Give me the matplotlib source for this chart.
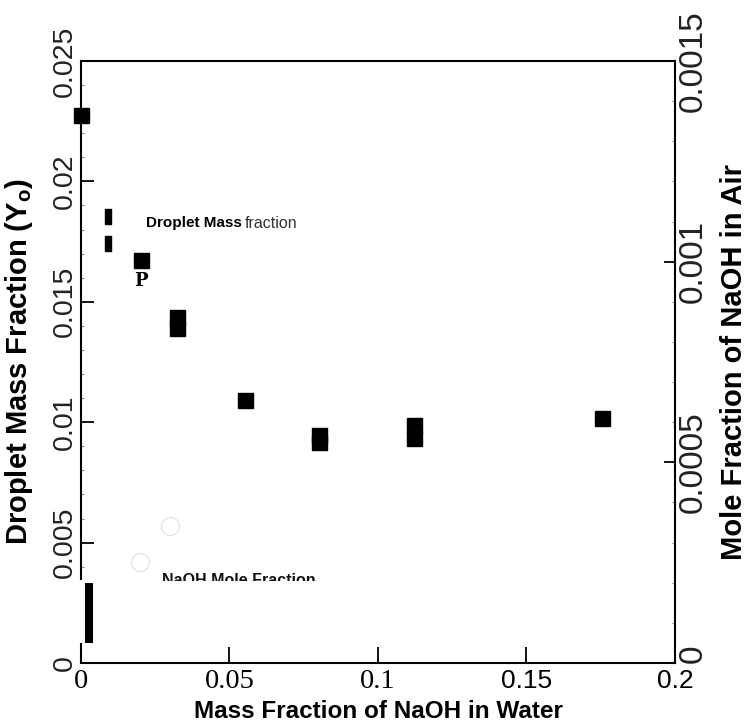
import matplotlib
matplotlib.use("Agg")
import matplotlib.pyplot as plt
from matplotlib.transforms import Bbox, TransformedBbox

plt.rcParams['font.family'] = ['Liberation Sans', 'DejaVu Sans']
plt.rcParams['mathtext.fontset'] = 'custom'
plt.rcParams['mathtext.rm'] = 'Liberation Sans'
plt.rcParams['mathtext.bf'] = 'Liberation Sans:bold'

# droplet mass fraction Y0 against NaOH mass fraction in water
naoh_water = [0.0, 0.0202, 0.0322, 0.0322, 0.0551, 0.0800, 0.0800, 0.1120, 0.1120, 0.1754]
droplet_y0 = [0.02274, 0.01674, 0.01435, 0.01393, 0.01092, 0.00945, 0.00916, 0.00990, 0.00936, 0.01017]

# the two narrow marks at ~0.009
split_x = [0.0091, 0.0091]
split_y = [0.01856, 0.01744]

# NaOH mole fraction in air (right axis)
mole_x = [0.0199, 0.0300]
mole_y = [0.000252, 0.000341]
bar_x = 0.0027
bar_lo, bar_hi = 0.00005, 0.00020

x_ticks = [0, 0.05, 0.1, 0.15, 0.2]
x_labels = ['0', '0.05', '0.1', '0.15', '0.2']
y_ticks = [0, 0.005, 0.01, 0.015, 0.02, 0.025]
y_labels = ['0', '0.005', '0.01', '0.015', '0.02', '0.025']
y2_ticks = [0, 0.0005, 0.001, 0.0015]
y2_labels = ['0', '0.0005', '0.001', '0.0015']

fig = plt.figure(figsize=(7.49, 7.26), dpi=100)
ax = fig.add_axes([0.1081, 0.0868, 0.7931, 0.8292])
ax2 = ax.twinx()

ax.set_xlim(0, 0.2)
ax.set_ylim(0, 0.025)
ax2.set_ylim(0, 0.0015)

# frame: left spine has a break near the bottom
for s in ['left', 'right']:
    ax.spines[s].set_visible(False)
for s in ['left', 'top', 'bottom']:
    ax2.spines[s].set_visible(False)
for s in ['top', 'bottom']:
    ax.spines[s].set_linewidth(1.5)
ax2.spines['right'].set_linewidth(1.5)
ax.plot([0, 0], [0, 0.00083], color='black', lw=1.5, clip_on=False, solid_capstyle='butt')
ax.plot([0, 0], [0.00345, 0.025], color='black', lw=1.5, clip_on=False, solid_capstyle='butt')

# ticks
ax.set_xticks(x_ticks)
ax.set_xticklabels(x_labels)
ax.tick_params(axis='x', direction='in', length=11.5, width=1.3, pad=4)
for lbl in ax.get_xticklabels():
    if lbl.get_text() in ('0', '0.05', '0.1'):
        lbl.set_fontfamily('Liberation Serif')
        lbl.set_fontsize(20.5)
    else:
        lbl.set_fontfamily('Liberation Sans')
        lbl.set_fontsize(19)

ax.set_yticks(y_ticks)
ax.set_yticklabels(y_labels, rotation=90, va='center', fontsize=20.5, color='#222222')
ax.set_yticks([i / 1000 for i in range(4, 25) if i % 5 != 0], minor=True)
ax.tick_params(axis='y', which='major', direction='in', length=9.4, width=1.3, pad=2.5)
ax.tick_params(axis='y', which='minor', direction='in', length=2.5, width=0.6, color='#666666')

ax2.set_yticks(y2_ticks)
ax2.set_yticklabels(y2_labels, rotation=90, va='center', fontsize=24, color='#222222')
ax2.get_yticklabels()[0].set_va('bottom')  # keep the zero clear of the 0.2 label
ax2.set_yticks([i / 10000 for i in range(1, 15) if i % 5 != 0], minor=True)
ax2.tick_params(axis='y', which='major', direction='in', length=8, width=1.3, pad=2)
ax2.tick_params(axis='y', which='minor', direction='in', length=2.5, width=0.6, color='#666666')

# droplet mass fraction points
ax.plot(naoh_water, droplet_y0, linestyle='none', marker='s', markersize=10.8,
        color='black', clip_on=False, zorder=5)
narrow = [(-0.2, -0.5), (0.2, -0.5), (0.2, 0.5), (-0.2, 0.5), (-0.2, -0.5)]
ax.plot(split_x, split_y, linestyle='none', marker=narrow, markersize=10.8,
        color='black', zorder=5)

# mole fraction marks
ax2.plot(mole_x, mole_y, linestyle='none', marker='o', markersize=13,
         markerfacecolor='none', markeredgecolor='#e0e0e0', markeredgewidth=0.8)
ax2.vlines(bar_x, bar_lo, bar_hi, color='black', lw=5.8)

# in-plot annotations
t1 = ax.text(0.0219, 0.01827, 'Droplet Mass', fontsize=11, fontweight='bold', va='center')
ax.annotate('fraction', xy=(1, 0.5), xycoords=t1, xytext=(2, 0), textcoords='offset points',
            fontsize=11.5, va='center', color='#333333')
ax.text(0.0202, 0.01586, 'P', fontsize=13, fontweight='bold', family='DejaVu Serif',
        ha='center', va='center')
t = ax.text(0.0273, 0.00372, 'NaOH Mole Fraction', fontsize=11.5, fontweight='bold',
            va='top', color='#111111')
t.set_clip_box(TransformedBbox(Bbox([[0, 0.00342], [0.2, 0.025]]), ax.transData))
t.set_clip_on(True)

# axis titles
ax.set_ylabel('Droplet Mass Fraction (Y$_\\mathbf{o}$)', fontsize=21, fontweight='bold')
ax.yaxis.set_label_coords(-0.077, 0.5)
ax2.set_ylabel('Mole Fraction of NaOH in Air', fontsize=21, fontweight='bold')
ax2.yaxis.set_label_coords(1.076, 0.5)
ax.set_xlabel('Mass Fraction of NaOH in Water', fontsize=17.5, fontweight='bold')
ax.xaxis.set_label_coords(0.5, -0.0615)

fig.savefig('out.png', dpi=100)
